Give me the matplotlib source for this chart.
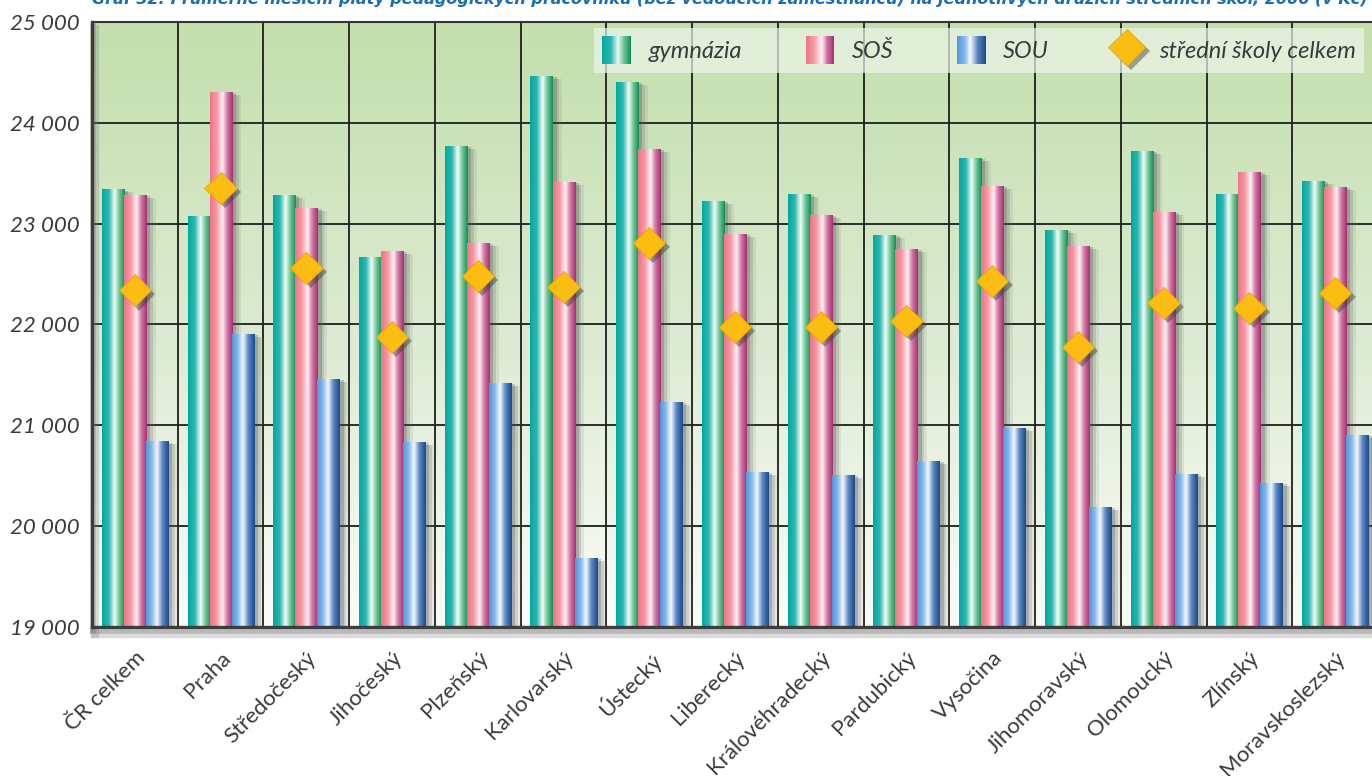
import numpy as np
import matplotlib
matplotlib.use("Agg")
import matplotlib.pyplot as plt
import matplotlib.patheffects as pe
from matplotlib.colors import LinearSegmentedColormap
from matplotlib.patches import Rectangle
from matplotlib.lines import Line2D
from matplotlib.legend_handler import HandlerBase
from matplotlib.transforms import ScaledTranslation

# Average monthly salaries by region (CZK)
regions = ["ČR celkem", "Praha", "Středočeský", "Jihočeský", "Plzeňský",
           "Karlovarský", "Ústecký", "Liberecký", "Královéhradecký",
           "Pardubický", "Vysočina", "Jihomoravský", "Olomoucký", "Zlínský",
           "Moravskoslezský"]
gymnazia = [23340, 23076, 23285, 22669, 23770, 24464, 24405, 23225, 23294,
            22888, 23651, 22937, 23721, 23294, 23423]
sos = [23285, 24306, 23155, 22729, 22808, 23413, 23740, 22897, 23086,
       22749, 23374, 22778, 23116, 23512, 23364]
sou = [20840, 21906, 21460, 20835, 21420, 19684, 21231, 20537, 20507,
       20646, 20973, 20190, 20517, 20428, 20904]
celkem = [22340, 23354, 22560, 21876, 22481, 22372, 22808, 21975, 21975,
          22035, 22431, 21777, 22213, 22163, 22312]
series_names = ["gymnázia", "SOŠ", "SOU", "střední školy celkem"]
y_ticks = [19000, 20000, 21000, 22000, 23000, 24000, 25000]
title = ("Graf 32: Průměrné měsíční platy pedagogických pracovníků "
         "(bez vedoucích zaměstnanců) na jednotlivých druzích středních škol, "
         "2006 (v Kč)")

FONT = dict(family=["Lato", "DejaVu Sans"], weight="normal")
TEXT_COLOR = "#3a3a3a"

cm_gym = LinearSegmentedColormap.from_list("gym", [
    (0.0, "#00a8a4"), (0.3, "#2db6ae"), (0.55, "#f4fcf8"),
    (0.75, "#72c89c"), (1.0, "#108f52")])
cm_sos = LinearSegmentedColormap.from_list("sos", [
    (0.0, "#ef7485"), (0.3, "#f59aa6"), (0.55, "#fdf1f4"),
    (0.75, "#d27aa6"), (1.0, "#a82c72")])
cm_sou = LinearSegmentedColormap.from_list("sou", [
    (0.0, "#4f95db"), (0.25, "#84b8ea"), (0.48, "#f4f9ff"),
    (0.72, "#5d86bf"), (1.0, "#164a8e")])
diamond_color = "#fbbd12"


def gradient_bars(ax, x, values, width, cmap, base):
    values = np.asarray(values, dtype=float)
    bars = ax.bar(x, values - base, width, bottom=base, color="#999999",
                  linewidth=0, zorder=3)
    ramp = np.linspace(0, 1, 256).reshape(1, -1)
    for b in bars:
        b.set_path_effects([
            pe.SimplePatchShadow(offset=(7, -2), shadow_rgbFace="#6b6b6b", alpha=0.12),
            pe.SimplePatchShadow(offset=(5, -2), shadow_rgbFace="#555555", alpha=0.18),
            pe.SimplePatchShadow(offset=(3, -1), shadow_rgbFace="#444444", alpha=0.25),
            pe.Normal()])
        x0, y0 = b.get_x(), b.get_y()
        im = ax.imshow(ramp, cmap=cmap, aspect="auto", interpolation="bilinear",
                       extent=[x0, x0 + b.get_width(), y0, y0 + b.get_height()],
                       zorder=3.1)
        im.set_clip_path(b)
    return bars


class GradientHandler(HandlerBase):
    """Legend key drawn as vertical strips of a colormap."""

    def __init__(self, cmap, n=30):
        super().__init__()
        self.cmap = cmap
        self.n = n

    def create_artists(self, legend, orig_handle, xdescent, ydescent,
                       width, height, fontsize, trans):
        arts = []
        for k in range(self.n):
            r = Rectangle((-xdescent + width * k / self.n, -ydescent),
                          width / self.n * 1.1, height,
                          facecolor=self.cmap((k + 0.5) / self.n),
                          edgecolor="none", transform=trans)
            arts.append(r)
        return arts


fig = plt.figure(figsize=(13.72, 7.76), dpi=100)
ax = fig.add_axes([92 / 1372, 149 / 776, 1286 / 1372, 605 / 776])

# green background fading to white towards the bottom
bg = LinearSegmentedColormap.from_list("bg", ["#fbfcf8", "#dbead0", "#c2dfac"])
ax.imshow(np.linspace(0, 1, 256).reshape(-1, 1), cmap=bg, origin="lower",
          extent=[0, 1, 0, 1], transform=ax.transAxes, aspect="auto", zorder=0)

x = np.arange(len(regions))
w = 0.257
base = y_ticks[0]
gradient_bars(ax, x - w, gymnazia, w, cm_gym, base)
gradient_bars(ax, x, sos, w, cm_sos, base)
gradient_bars(ax, x + w, sou, w, cm_sou, base)

diamond_fx = [pe.SimplePatchShadow(offset=(3, -3), shadow_rgbFace="#3a3a3a", alpha=0.45),
              pe.Normal()]
ax.plot(x, celkem, ls="none", marker="D", ms=16.5, mfc=diamond_color,
        mec="#e8a900", mew=0.6, zorder=5, path_effects=diamond_fx)

ax.set_xlim(-0.5, len(regions) - 0.5)
ax.set_ylim(y_ticks[0], y_ticks[-1])

# grid: horizontal at every 1000, vertical between regions
ax.set_yticks(y_ticks)
ax.set_yticklabels([f"{v:,}".replace(",", " ") for v in y_ticks],
                   fontsize=16, style="italic", color=TEXT_COLOR, **FONT)
ax.set_xticks(x)
ax.set_xticks(np.arange(len(regions) + 1) - 0.5, minor=True)
ax.set_xticklabels(regions, rotation=45, ha="right", va="top",
                   rotation_mode="anchor", fontsize=16, color=TEXT_COLOR, **FONT)
for lbl in ax.get_xticklabels():
    lbl.set_transform(lbl.get_transform() + ScaledTranslation(9 / 100, 0, fig.dpi_scale_trans))
ax.tick_params(axis="x", which="both", length=0, pad=15)
ax.tick_params(axis="y", length=0, pad=9)
ax.grid(axis="y", color="#1e1e1e", lw=1.3, zorder=1)
ax.grid(axis="x", which="minor", color="#1e1e1e", lw=1.3, zorder=1)
ax.set_axisbelow(True)

for side in ["top", "right"]:
    ax.spines[side].set_color("#333333")
    ax.spines[side].set_linewidth(1.5)
for side in ["left", "bottom"]:
    ax.spines[side].set_color("#3d3d3d")
    ax.spines[side].set_linewidth(2.4)
    ax.spines[side].set_zorder(6)
    ax.spines[side].set_path_effects([
        pe.SimpleLineShadow(offset=(2, -5), shadow_color="#777777", alpha=0.25, linewidth=6),
        pe.SimpleLineShadow(offset=(1, -3), shadow_color="#666666", alpha=0.3, linewidth=4),
        pe.Normal()])

# legend
handles = [Rectangle((0, 0), 1, 1), Rectangle((0, 0), 1, 1), Rectangle((0, 0), 1, 1),
           Line2D([], [], ls="none", marker="D", ms=19, mfc=diamond_color,
                  mec="#e8a900", mew=0.6, path_effects=diamond_fx)]
leg = ax.legend(handles, series_names, ncol=4, loc="upper right",
                bbox_to_anchor=(0.989, 0.99), borderaxespad=0,
                handler_map={handles[0]: GradientHandler(cm_gym),
                             handles[1]: GradientHandler(cm_sos),
                             handles[2]: GradientHandler(cm_sou)},
                prop=dict(size=17, style="italic", **FONT),
                handlelength=1.2, handleheight=1.45, handletextpad=0.75,
                columnspacing=2.7, borderpad=0.35, fancybox=False,
                frameon=True, framealpha=0.7, facecolor="#eef5ea", edgecolor="none")
for t in leg.get_texts():
    t.set_color(TEXT_COLOR)
leg.set_zorder(7)

# title, only its lower edge shows at the top of the figure
tt = fig.text(92 / 1372, 1 - 4 / 776, title, ha="left", va="baseline",
              fontsize=18, fontweight="bold", style="italic", color="#1b6db3",
              family="DejaVu Sans")
fig.canvas.draw()
tw = tt.get_window_extent().width
tt.set_fontsize(18 * 1273 / tw)

fig.savefig("out.png", dpi=100)
